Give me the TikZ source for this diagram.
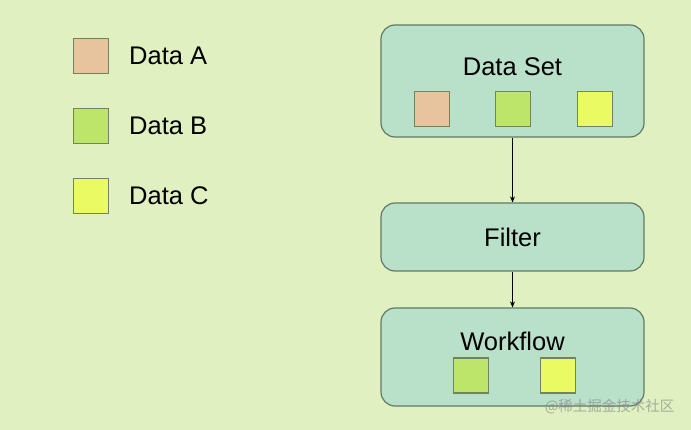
\documentclass[tikz,border=0pt]{standalone}
\usepackage{fontspec}
\setmainfont{Liberation Sans}
\newfontfamily\cjkfont{Noto Sans CJK SC}
\usetikzlibrary{arrows.meta}
\definecolor{bgcol}{HTML}{E0F0C0}
\definecolor{boxcol}{HTML}{B9E0C9}
\definecolor{linecol}{HTML}{627A64}
\definecolor{itemline}{HTML}{72845E}
\definecolor{dataA}{HTML}{E8C49E}
\definecolor{dataB}{HTML}{BDE56A}
\definecolor{dataC}{HTML}{EAFA62}
\begin{document}
\begin{tikzpicture}[x=1pt,y=-1pt,
  box/.style={draw=linecol,fill=boxcol,rounded corners=14pt,line width=1.2pt,minimum width=263pt},
  item/.style={draw=itemline,line width=1.1pt,minimum size=35pt,inner sep=0pt},
  lbl/.style={font=\fontsize{25.5}{30}\selectfont,inner sep=0pt},
  arrow/.style={-{Stealth[length=6pt,width=5pt]},line width=0.8pt}]
% Background
\fill[bgcol] (0,0) rectangle (691,430);
\useasboundingbox (0,0) rectangle (691,430);
% Legend
\foreach \name/\col/\y in {A/dataA/56,B/dataB/126,C/dataC/196}{
  \node[item,fill=\col] (key\name) at (91,\y) {};
  \node[lbl,anchor=west] (keytext\name) at (129,\y) {Data \name};
}
% Data Set
\node[box,minimum height=112pt] (dataset) at (512.5,81) {};
\node[lbl] (datasettext) at (512.5,67) {Data Set};
\node[item,fill=dataA] (setA) at (432,109) {};
\node[item,fill=dataB] (setB) at (513,109) {};
\node[item,fill=dataC] (setC) at (595,109) {};
% Filter
\node[box,minimum height=68pt] (filter) at (512.5,237) {};
\node[lbl] (filtertext) at (512.5,237) {Filter};
% Workflow
\node[box,minimum height=98pt] (workflow) at (512.5,357) {};
\node[lbl] (workflowtext) at (512.5,341) {Workflow};
\node[item,fill=dataB] (flowB) at (471,375.5) {};
\node[item,fill=dataC] (flowC) at (558,375.5) {};
% Arrows
\draw[arrow] (dataset) -- (filter);
\draw[arrow] (filter) -- (workflow);
% Watermark
\node[anchor=east,text=gray,opacity=0.6,font=\cjkfont\fontsize{14.5}{16}\selectfont] (mark) at (678,407) {@稀土掘金技术社区};
\end{tikzpicture}
\end{document}
